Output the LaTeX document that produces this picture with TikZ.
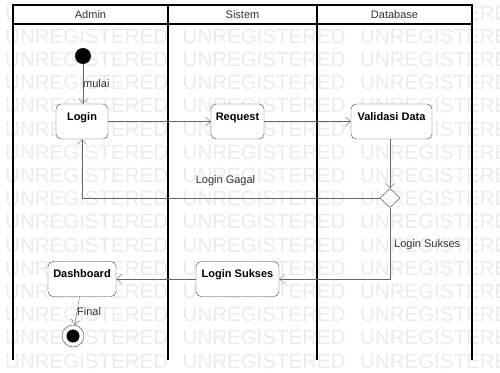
\documentclass[tikz,border=0pt]{standalone}
\usepackage{fontspec}
\setmainfont{Liberation Sans}
\usetikzlibrary{arrows.meta,shapes.geometric}

\begin{document}
\begin{tikzpicture}[x=1pt,y=-1pt,
  act/.style={draw=black!75, fill=white, rounded corners=5pt, minimum height=35pt, text height=8pt, text depth=11pt, inner sep=0pt, font=\bfseries\fontsize{11}{13}\selectfont},
  flow/.style={draw=black!60, -{Straight Barb[length=5pt,width=9pt]}},
  lbl/.style={inner sep=0pt, text=black!80, font=\fontsize{11}{13}\selectfont},
  wm/.style={anchor=west, inner sep=0pt, text=black!8, font=\fontsize{20.5}{22}\selectfont},
  lane/.style={black, line width=1.2pt}]
\useasboundingbox (0,0) rectangle (500,372);
% watermark
\foreach \r in {0,...,15}
  \foreach \c in {0,1,2}
    \node[wm] at (5+177.5*\c, 13+23.2*\r) {UNREGISTERED};
% swimlanes
\draw [lane, fill=white] (13,5) rectangle (472,24);
\draw [lane] (13,5) -- (13,360);
\draw [lane] (168,5) -- (168,360);
\draw [lane] (317,5) -- (317,360);
\draw [lane] (472,5) -- (472,360);
\node [lbl] (hadmin) at (90.5,14.5) {Admin};
\node [lbl] (hsistem) at (242.5,14.5) {Sistem};
\node [lbl] (hdb) at (394.5,14.5) {Database};
% states
\node [circle, fill=black, minimum size=16pt, inner sep=0pt] (start) at (83,56) {};
\node [act, minimum width=52pt] (login) at (82,121.5) {Login};
\node [act, minimum width=53pt] (request) at (237.5,121.5) {Request};
\node [act, minimum width=81pt] (valid) at (391.5,121.5) {Validasi Data};
\node [diamond, draw=black!75, fill=white, minimum width=20pt, minimum height=19pt, inner sep=0pt] (cek) at (390,198) {};
\node [act, minimum width=83pt] (sukses) at (237.5,279) {Login Sukses};
\node [act, minimum width=68pt] (dash) at (82,279) {Dashboard};
\node [circle, draw=black!75, fill=white, minimum size=22pt, inner sep=0pt] (final) at (73,336) {};
\node [circle, fill=black, minimum size=13pt, inner sep=0pt] (finaldot) at (final) {};
% transitions
\draw [flow] (start) -- (login.north -| start);
\node [lbl, anchor=west] (mulai) at (83,84) {mulai};
\draw [flow] (login) -- (request);
\draw [flow] (request) -- (valid);
\draw [flow] (valid.south -| cek) -- (cek.north);
\draw [flow] (cek.west) -| (login.south);
\node [lbl] (gagal) at (225.5,181) {Login Gagal};
\draw [flow] (cek.south) |- (sukses.east);
\node [lbl, anchor=west] (ok) at (394,245) {Login Sukses};
\draw [flow] (sukses) -- (dash);
\draw [flow] ([xshift=-2.5pt]dash.south) -- (final);
\node [lbl, anchor=west] (fin) at (77,312) {Final};
\end{tikzpicture}
\end{document}
